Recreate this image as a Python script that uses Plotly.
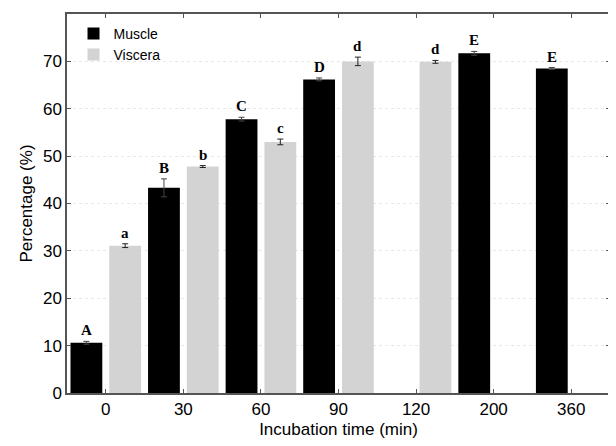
import plotly.graph_objects as go

groups = ["0", "30", "60", "90", "120", "200", "360"]
muscle = [10.6, 43.3, 57.8, 66.2, None, 71.7, 68.5]
muscle_err = [0.3, 1.9, 0.4, 0.3, None, 0.4, 0.2]
viscera = [31.1, 47.8, 53.0, 70.0, 69.9, None, None]
viscera_err = [0.4, 0.2, 0.6, 0.9, 0.3, None, None]
muscle_letters = ["A", "B", "C", "D", "", "E", "E"]
viscera_letters = ["a", "b", "c", "d", "d", "", ""]

xs = list(range(len(groups)))
sans = "Liberation Sans, Arial, sans-serif"
serif = "Liberation Serif, Times New Roman, serif"

fig = go.Figure()
fig.add_trace(go.Bar(
    x=xs, y=muscle, name="Muscle", marker=dict(color="#000000", line=dict(width=0)),
    error_y=dict(type="data", array=muscle_err, color="#444444", thickness=1, width=3),
))
fig.add_trace(go.Bar(
    x=xs, y=viscera, name="Viscera", marker=dict(color="#d3d3d3", line=dict(width=0)),
    error_y=dict(type="data", array=viscera_err, color="#222222", thickness=1, width=3),
))

annotations = []
for i in xs:
    if muscle[i] is not None and muscle_letters[i]:
        annotations.append(dict(x=i - 0.25, y=muscle[i] + muscle_err[i], text="<b>%s</b>" % muscle_letters[i],
                                showarrow=False, yanchor="bottom", yshift=1,
                                font=dict(family=serif, size=15, color="#000")))
    if viscera[i] is not None and viscera_letters[i]:
        annotations.append(dict(x=i + 0.25, y=viscera[i] + viscera_err[i], text="<b>%s</b>" % viscera_letters[i],
                                showarrow=False, yanchor="bottom", yshift=1,
                                font=dict(family=serif, size=15, color="#000")))

fig.update_layout(
    width=608, height=438,
    margin=dict(l=59, r=4, t=6, b=53),
    paper_bgcolor="white", plot_bgcolor="white",
    barmode="group", bargap=0, bargroupgap=0.18,
    showlegend=True,
    legend=dict(x=0.012, y=0.99, xanchor="left", yanchor="top", bgcolor="rgba(0,0,0,0)",
                font=dict(family=sans, size=14, color="#000"), tracegroupgap=0,
                itemwidth=30),
    annotations=annotations,
    xaxis=dict(
        range=[-0.5, 6.5], tickmode="array", tickvals=xs, ticktext=groups,
        showline=True, linecolor="#555555", linewidth=1.5, mirror="ticks",
        ticks="inside", ticklen=4, tickcolor="#555555", showgrid=False, zeroline=False,
        tickfont=dict(family=sans, size=17, color="#000"),
        title=dict(text="Incubation time (min)", font=dict(family=sans, size=17, color="#000"), standoff=5),
    ),
    yaxis=dict(
        range=[0, 80], dtick=10,
        showline=True, linecolor="#555555", linewidth=1.5, mirror="ticks",
        ticks="inside", ticklen=4, tickcolor="#555555",
        showgrid=True, gridcolor="#e8e8e8", griddash="dot", gridwidth=1, zeroline=False,
        tickfont=dict(family=sans, size=17, color="#000"),
        title=dict(text="Percentage (%)", font=dict(family=sans, size=17, color="#000"), standoff=6),
    ),
)

fig.write_html("out.html")
